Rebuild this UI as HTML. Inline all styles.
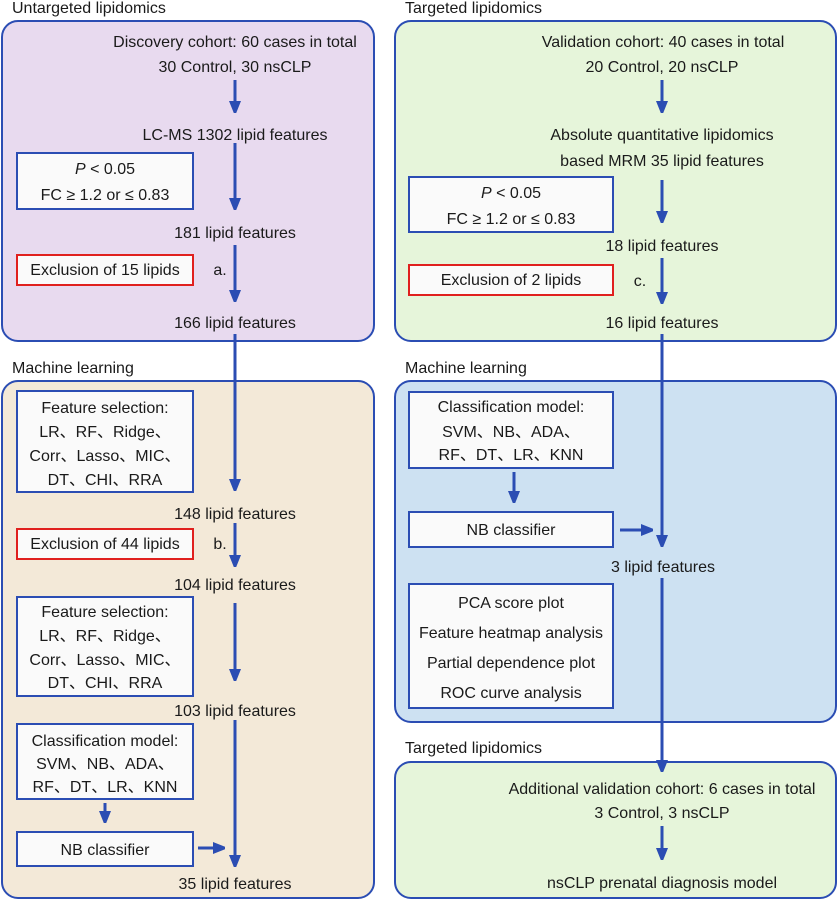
<!DOCTYPE html>
<html><head><meta charset="utf-8"><style>
html,body{margin:0;padding:0;background:#fff}
svg text{font-family:"Liberation Sans","Noto Sans CJK SC",sans-serif;font-size:16px;fill:#1a1a1a}
</style></head><body>
<svg width="840" height="900" viewBox="0 0 840 900" xmlns="http://www.w3.org/2000/svg">
<defs>
<marker id="ah" markerWidth="4" markerHeight="5" refX="1" refY="2" orient="auto" markerUnits="strokeWidth"><path d="M0,0 L5,2 L0,4 Z" fill="#2b4db3"/></marker>
</defs>
<g stroke="#2b4db3" stroke-width="2">
<rect x="2" y="21" width="372" height="320" rx="16" fill="#e8daef"/>
<rect x="395" y="21" width="441" height="320" rx="16" fill="#e6f5da"/>
<rect x="2" y="381" width="372" height="517" rx="16" fill="#f3e9d8"/>
<rect x="395" y="381" width="441" height="341" rx="16" fill="#cde1f2"/>
<rect x="395" y="762" width="441" height="136" rx="16" fill="#e6f5da"/>
<rect x="17" y="153" width="176" height="56" fill="#fafafa"/>
<rect x="409" y="177" width="204" height="55" fill="#fafafa"/>
<rect x="17" y="391" width="176" height="101" fill="#fafafa"/>
<rect x="17" y="597" width="176" height="99" fill="#fafafa"/>
<rect x="17" y="724" width="176" height="75" fill="#fafafa"/>
<rect x="17" y="832" width="176" height="34" fill="#fafafa"/>
<rect x="409" y="392" width="204" height="76" fill="#fafafa"/>
<rect x="409" y="512" width="204" height="35" fill="#fafafa"/>
<rect x="409" y="584" width="204" height="124" fill="#fafafa"/>
</g>
<g stroke="#e0201e" stroke-width="2" fill="#fafafa">
<rect x="17" y="255" width="176" height="30"/>
<rect x="409" y="265" width="204" height="30"/>
<rect x="17" y="529" width="176" height="30"/>
</g>
<g stroke="#2b4db3" stroke-width="3" marker-end="url(#ah)" fill="none">
<line x1="235" y1="80" x2="235" y2="104"/>
<line x1="235" y1="143" x2="235" y2="201"/>
<line x1="235" y1="245" x2="235" y2="293"/>
<line x1="235" y1="334" x2="235" y2="482"/>
<line x1="235" y1="523" x2="235" y2="558"/>
<line x1="235" y1="603" x2="235" y2="672"/>
<line x1="235" y1="720" x2="235" y2="858"/>
<line x1="105" y1="803" x2="105" y2="814"/>
<line x1="198" y1="848" x2="216" y2="848"/>
<line x1="662" y1="80" x2="662" y2="104"/>
<line x1="662" y1="180" x2="662" y2="214"/>
<line x1="662" y1="258" x2="662" y2="295"/>
<line x1="662" y1="334" x2="662" y2="538"/>
<line x1="514" y1="472" x2="514" y2="494"/>
<line x1="620" y1="530" x2="644" y2="530"/>
<line x1="662" y1="578" x2="662" y2="763"/>
<line x1="662" y1="826" x2="662" y2="851"/>
</g>
<text x="12" y="13">Untargeted lipidomics</text>
<text x="405" y="13">Targeted lipidomics</text>
<text x="12" y="373">Machine learning</text>
<text x="405" y="373">Machine learning</text>
<text x="405" y="753">Targeted lipidomics</text>
<g text-anchor="middle">
<text x="235" y="47">Discovery cohort: 60 cases in total</text>
<text x="235" y="72">30 Control, 30 nsCLP</text>
<text x="235" y="140">LC-MS 1302 lipid features</text>
<text x="105" y="174"><tspan font-style="italic">P</tspan> &lt; 0.05</text>
<text x="105" y="200">FC ≥ 1.2 or  ≤ 0.83</text>
<text x="235" y="238">181 lipid features</text>
<text x="105" y="275">Exclusion of 15 lipids</text>
<text x="220" y="275">a.</text>
<text x="235" y="328">166 lipid features</text>
<text x="105" y="413">Feature selection:</text>
<text x="105" y="437">LR、RF、Ridge、</text>
<text x="105" y="461">Corr、Lasso、MIC、</text>
<text x="105" y="485">DT、CHI、RRA</text>
<text x="235" y="519">148 lipid features</text>
<text x="105" y="549">Exclusion of 44 lipids</text>
<text x="220" y="549">b.</text>
<text x="235" y="590">104 lipid features</text>
<text x="105" y="617">Feature selection:</text>
<text x="105" y="641">LR、RF、Ridge、</text>
<text x="105" y="665">Corr、Lasso、MIC、</text>
<text x="105" y="688">DT、CHI、RRA</text>
<text x="235" y="716">103 lipid features</text>
<text x="105" y="746">Classification model:</text>
<text x="105" y="769">SVM、NB、ADA、</text>
<text x="105" y="792">RF、DT、LR、KNN</text>
<text x="105" y="855">NB classifier</text>
<text x="235" y="889">35 lipid features</text>
<text x="663" y="47">Validation cohort: 40 cases in total</text>
<text x="662" y="72">20 Control, 20 nsCLP</text>
<text x="662" y="140">Absolute quantitative lipidomics</text>
<text x="662" y="166">based MRM 35 lipid features</text>
<text x="511" y="198"><tspan font-style="italic">P</tspan> &lt; 0.05</text>
<text x="511" y="224">FC ≥ 1.2 or  ≤ 0.83</text>
<text x="662" y="251">18 lipid features</text>
<text x="511" y="285">Exclusion of 2 lipids</text>
<text x="640" y="286">c.</text>
<text x="662" y="328">16 lipid features</text>
<text x="511" y="412">Classification model:</text>
<text x="511" y="437">SVM、NB、ADA、</text>
<text x="511" y="460">RF、DT、LR、KNN</text>
<text x="511" y="535">NB classifier</text>
<text x="663" y="572">3 lipid features</text>
<text x="511" y="608">PCA score plot</text>
<text x="511" y="638">Feature heatmap analysis</text>
<text x="511" y="668">Partial dependence plot</text>
<text x="511" y="698">ROC curve analysis</text>
<text x="662" y="794">Additional validation cohort: 6 cases in total</text>
<text x="662" y="818">3 Control, 3 nsCLP</text>
<text x="662" y="888">nsCLP prenatal diagnosis model</text>
</g>
</svg>
</body></html>
